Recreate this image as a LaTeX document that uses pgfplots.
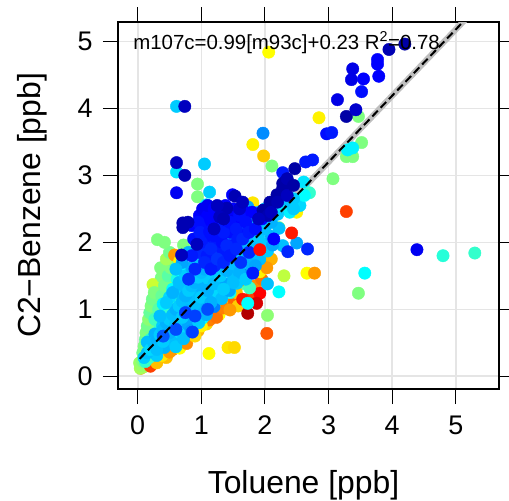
\documentclass[border=0pt]{standalone}
\usepackage{fontspec}
\setmainfont{Liberation Sans}
\usepackage{pgfplots}
\usepackage{pgfplotstable}
\pgfplotsset{compat=1.18}
\usetikzlibrary{calc}
\definecolor{gridc}{gray}{0.9}
\pgfplotstableread{
x y c
0.05 0.12 5.8
0.04 0.12 4.3
0.09 0.14 4.3
0.03 0.20 4.2
0.06 0.16 4.2
0.08 0.22 4.0
0.10 0.30 3.8
0.12 0.38 4.0
0.14 0.46 4.1
0.15 0.55 3.9
0.17 0.63 4.0
0.18 0.72 4.2
0.20 0.80 3.8
0.22 0.88 4.0
0.23 0.97 3.9
0.25 1.05 4.1
0.27 1.13 4.0
0.29 1.22 3.8
0.31 1.30 4.0
0.34 1.38 4.2
0.37 1.47 3.9
0.41 1.55 4.0
0.46 1.62 4.1
0.24 1.37 4.6
0.39 1.48 4.0
0.30 0.95 4.0
0.35 1.10 3.9
0.40 1.25 4.1
0.45 1.38 4.0
0.25 0.75 3.9
0.30 0.70 4.0
0.20 0.60 3.8
0.28 0.55 3.7
0.15 0.35 3.9
0.22 0.45 4.0
0.50 1.45 4.0
0.55 1.55 3.8
0.36 1.62 4.0
0.08 0.35 3.9
0.10 0.45 4.0
0.12 0.55 3.8
0.13 0.65 4.0
0.15 0.75 3.9
0.17 0.85 4.1
0.19 0.95 3.8
0.21 1.05 4.0
0.23 1.15 3.9
0.26 1.25 4.0
0.33 1.00 3.7
0.38 1.20 3.8
0.42 1.35 3.9
0.48 1.50 3.7
0.52 1.62 4.0
0.58 1.70 3.8
0.45 1.75 4.3
0.50 1.85 3.9
0.62 1.60 3.9
0.31 2.04 4.0
0.42 2.00 4.0
0.94 2.87 4.0
0.94 2.68 4.0
0.72 1.96 4.0
2.11 3.14 4.0
3.07 2.95 4.0
3.28 3.28 4.0
3.38 3.28 4.0
3.52 3.49 4.0
3.47 3.88 4.0
3.47 1.24 4.0
2.04 0.91 4.1
2.30 1.50 4.5
2.22 2.22 4.0
1.60 1.14 4.0
1.97 1.72 4.5
1.50 1.30 3.9
1.62 1.38 3.8
0.20 0.15 6.5
0.30 0.20 5.5
0.45 0.28 5.5
0.55 0.40 6.0
0.65 0.50 5.2
0.72 0.55 6.5
0.82 0.60 5.0
0.95 0.68 5.6
1.08 0.78 5.3
1.18 0.95 6.4
1.28 0.92 5.0
1.40 1.10 5.6
1.52 1.12 6.2
1.58 1.05 5.4
1.85 1.35 5.9
1.95 1.45 6.1
2.10 1.75 5.6
0.38 0.31 5.2
0.50 0.36 5.8
0.66 0.42 5.0
0.77 0.49 5.9
0.60 0.50 5.5
0.90 0.60 5.3
0.70 0.60 5.6
0.85 0.70 5.9
0.95 0.95 5.4
1.05 0.90 6.2
1.13 0.84 6.0
1.24 0.88 6.1
1.34 1.02 6.0
1.45 0.99 5.8
1.20 1.05 5.2
1.00 0.75 5.1
1.65 1.44 5.9
1.55 1.25 5.5
1.70 1.60 5.0
1.80 1.20 6.5
1.65 1.15 6.8
1.92 1.24 7.0
1.87 1.09 7.3
1.73 0.94 7.6
2.03 0.64 6.3
1.12 0.34 5.0
1.42 0.43 5.2
1.52 0.43 5.3
1.92 1.56 5.1
2.03 1.62 5.8
2.66 1.54 5.0
2.78 1.54 5.8
3.28 2.46 6.5
0.58 1.81 5.8
0.66 1.72 5.1
2.06 4.84 5.0
2.85 3.86 5.1
1.81 3.46 5.1
1.98 3.29 5.4
1.81 2.59 5.2
2.40 2.48 5.8
2.50 2.45 5.1
0.61 4.03 2.6
0.61 3.05 2.8
3.30 3.38 2.9
3.38 3.41 2.9
2.61 2.90 2.8
2.70 2.74 3.4
4.80 1.80 3.3
5.30 1.84 3.4
3.57 1.54 3.0
2.22 1.26 3.0
1.73 1.09 3.0
1.76 1.32 3.5
1.08 2.56 2.8
2.39 2.45 2.9
0.15 0.30 3.3
0.20 0.42 3.4
0.25 0.55 3.2
0.30 0.65 3.4
0.35 0.80 3.3
0.40 0.90 3.2
0.45 1.05 3.4
0.50 1.15 3.3
0.55 1.30 3.0
0.62 1.45 3.2
0.70 1.55 3.0
0.12 0.22 3.4
0.18 0.28 3.5
0.28 0.40 3.3
0.38 0.55 3.2
0.48 0.70 3.0
1.02 0.87 3.0
1.30 1.20 3.1
1.55 1.45 3.0
0.35 0.70 3.4
0.42 0.82 3.3
0.50 1.00 3.4
0.57 1.12 3.3
0.63 1.25 3.4
0.68 1.35 3.2
0.20 0.55 3.4
0.27 0.85 3.5
2.55 2.55 2.7
2.62 2.70 3.0
2.45 2.50 2.6
1.45 1.25 3.2
1.90 1.75 3.0
0.15 0.51 2.5
0.27 0.63 2.4
0.39 0.75 2.6
0.51 0.86 2.5
0.63 0.98 2.3
0.75 1.10 2.6
0.87 1.22 2.5
0.99 1.34 2.4
1.11 1.46 2.6
1.23 1.58 2.5
1.35 1.70 2.3
1.47 1.82 2.6
1.59 1.93 2.5
1.71 2.05 2.4
1.83 2.17 2.6
1.95 2.29 2.5
2.07 2.41 2.7
0.30 0.31 2.6
0.42 0.43 2.4
0.54 0.54 2.5
0.66 0.66 2.7
0.78 0.78 2.3
0.90 0.90 2.6
1.02 1.02 2.4
1.14 1.14 2.5
1.26 1.26 2.7
1.38 1.38 2.3
1.50 1.50 2.5
1.62 1.61 2.6
1.74 1.73 2.4
1.86 1.85 2.5
1.98 1.97 2.6
2.10 2.09 2.4
2.22 2.21 2.5
0.60 0.44 2.6
0.72 0.56 2.5
0.84 0.68 2.2
0.96 0.80 2.6
1.08 0.92 2.4
1.20 1.04 2.0
1.32 1.16 2.5
1.44 1.28 2.3
1.56 1.39 2.6
1.68 1.51 2.0
1.80 1.63 2.4
1.92 1.75 2.5
2.04 1.87 2.6
0.40 1.08 2.9
0.50 1.18 2.7
0.60 1.27 2.6
0.70 1.37 2.5
0.80 1.47 2.4
0.90 1.57 2.3
0.10 0.28 2.6
0.15 0.35 2.5
0.20 0.40 2.7
0.25 0.50 2.5
0.30 0.55 2.4
0.35 0.62 2.6
0.40 0.70 2.5
0.45 0.80 2.4
0.50 0.85 2.6
0.55 0.92 2.5
0.60 1.00 2.4
0.65 1.05 2.6
0.70 1.12 2.5
0.75 1.20 2.4
0.80 1.28 2.6
0.85 1.35 2.5
0.90 1.40 2.4
0.95 1.48 2.6
1.00 1.55 2.5
1.05 1.60 2.4
1.10 1.68 2.6
1.15 1.75 2.5
1.20 1.80 2.4
1.25 1.85 2.6
1.30 1.90 2.5
1.35 1.95 2.4
1.40 2.00 2.6
1.45 2.05 2.5
1.50 2.10 2.4
1.55 2.15 2.6
1.60 2.20 2.5
1.70 2.25 2.4
1.80 2.35 2.5
1.90 2.45 2.6
2.00 2.50 2.4
0.30 0.40 2.5
0.40 0.52 2.6
0.50 0.65 2.4
0.60 0.78 2.5
0.70 0.88 2.6
0.80 0.98 2.4
0.90 1.08 2.5
1.00 1.18 2.6
1.10 1.28 2.4
1.20 1.38 2.5
1.30 1.50 2.6
1.40 1.58 2.4
1.50 1.68 2.5
1.60 1.78 2.6
1.70 1.88 2.4
1.80 1.98 2.5
1.90 2.08 2.6
2.00 2.20 2.5
2.10 2.30 2.4
2.20 2.42 2.6
0.35 0.90 2.5
0.45 1.10 2.6
0.55 1.25 2.4
0.65 1.40 2.5
0.75 1.50 2.6
0.85 1.62 2.4
0.95 1.75 2.5
0.70 1.70 2.3
0.80 1.85 2.4
0.60 1.60 2.5
1.13 2.75 2.6
1.05 3.17 2.6
1.73 2.53 2.3
2.50 1.99 2.3
2.04 1.38 2.5
1.97 3.63 2.1
2.28 1.95 2.5
2.12 1.96 2.3
1.60 1.55 2.4
1.70 1.45 2.6
1.85 1.65 2.3
1.50 1.40 2.5
1.35 1.30 2.6
1.15 1.10 2.4
2.30 2.60 2.5
2.45 2.65 2.6
2.20 2.55 2.8
0.86 0.66 1.5
0.60 0.70 1.6
0.90 0.90 1.5
1.10 1.00 1.6
0.40 0.60 1.7
0.75 0.95 1.5
0.97 1.85 1.3
0.97 2.40 1.0
1.09 1.80 1.2
1.09 1.95 1.3
1.09 2.10 1.1
1.09 2.28 1.0
1.21 1.65 1.3
1.21 1.95 1.2
1.21 2.30 1.0
1.21 2.42 0.9
1.33 1.82 1.2
1.33 2.00 1.1
1.33 2.30 1.0
1.45 1.95 1.2
1.45 2.15 1.1
1.45 2.45 0.9
1.57 2.05 1.2
1.57 2.32 1.0
1.69 2.12 1.1
1.69 2.45 1.0
0.85 1.80 1.2
0.88 2.05 1.1
0.85 2.25 1.0
1.02 2.50 0.9
1.38 2.55 1.0
1.80 2.45 1.0
1.62 1.70 1.4
1.75 1.85 1.3
1.00 2.00 1.2
1.05 2.20 1.1
1.10 2.40 1.0
1.15 1.90 1.3
1.20 2.10 1.1
1.25 2.30 1.2
1.30 2.45 1.0
1.35 2.15 1.2
1.40 1.95 1.3
1.45 2.30 1.1
1.50 2.50 1.0
1.55 2.20 1.2
1.60 2.40 1.1
1.65 2.05 1.3
1.05 1.70 1.3
1.15 1.60 1.2
1.25 1.75 1.4
1.35 1.70 1.3
1.45 1.80 1.2
1.55 1.90 1.3
1.10 2.55 0.9
1.20 2.50 1.0
0.95 2.30 1.1
0.98 2.15 1.2
1.70 2.30 1.1
1.75 2.15 1.2
1.85 2.20 1.1
1.95 2.35 1.0
0.90 1.60 1.3
0.80 1.45 1.4
1.16 2.31 1.0
1.13 2.16 1.1
0.61 2.74 0.9
1.49 2.71 1.0
2.64 3.20 1.2
2.75 3.23 1.2
2.28 3.04 1.2
2.97 3.62 1.1
3.05 3.64 1.2
3.77 4.73 1.0
3.77 4.66 1.0
3.38 4.59 0.8
3.36 4.43 0.8
3.55 4.44 1.0
3.52 4.25 1.1
3.79 4.48 1.0
3.14 4.13 0.8
4.39 1.89 0.9
2.36 1.86 1.3
2.67 1.90 1.3
2.14 2.05 1.0
1.81 1.54 1.2
0.74 4.03 0.5
0.61 3.19 0.5
0.74 3.00 0.4
2.47 3.10 0.3
2.28 2.88 0.3
3.28 3.88 0.3
3.43 3.98 0.6
4.20 4.96 0.3
3.95 4.88 0.4
0.71 2.29 0.4
0.79 2.30 0.4
0.71 2.22 0.4
0.93 1.97 0.5
0.69 1.81 0.5
1.40 2.51 0.4
1.53 2.69 0.4
1.29 2.38 0.5
1.97 2.48 0.3
2.08 2.60 0.3
2.19 2.71 0.3
2.28 2.81 0.3
2.35 2.95 0.4
2.05 2.40 0.4
1.90 2.35 0.5
1.20 2.20 0.5
1.35 2.35 0.4
1.60 2.50 0.6
2.10 2.45 0.5
2.20 2.60 0.4
2.35 2.70 0.5
2.45 2.85 0.3
1.25 2.55 0.5
1.65 2.60 0.5
1.92 1.89 6.9
2.42 2.14 6.8
}\pts
\begin{document}
\begin{tikzpicture}
\begin{axis}[name=ax, scale only axis, width=381bp, height=367bp,
  xmin=-0.31, xmax=5.68, ymin=-0.19, ymax=5.29,
  xtick={0,1,2,3,4,5}, ytick={0,1,2,3,4,5},
  tick align=outside, major tick length=15bp,
  tick style={black, line width=1.1bp},
  axis line style={line width=1.2bp},
  grid=major, grid style={gridc, line width=1.6bp},
  ticklabel style={font=\fontsize{27}{30}\selectfont},
  /pgf/number format/assume math mode=true,
  xticklabel style={yshift=-8bp},
  yticklabel style={xshift=-7bp},
  xlabel={Toluene [ppb]}, ylabel={C2−Benzene [ppb]},
  xlabel style={font=\fontsize{32}{36}\selectfont, at={(rel axis cs:0.5,0)}, anchor=base, yshift=-104bp, xshift=-5bp},
  ylabel style={font=\fontsize{32}{36}\selectfont, at={(rel axis cs:0,0.5)}, anchor=base, rotate=0, xshift=0bp, yshift=77bp},
  colormap/jet, point meta min=0, point meta max=8,
  clip marker paths=true,
]
\addplot[gray!50, line width=6bp, forget plot] coordinates {(0.03,0.26) (5.8,5.97)};
\addplot[scatter, only marks, mark=*, mark size=6.2bp, point meta=explicit,
  scatter/use mapped color={draw=mapped color, fill=mapped color}]
  table[x=x, y=y, meta=c] {\pts};
\addplot[black, line width=2bp, dash pattern=on 8bp off 4bp] coordinates {(0.03,0.26) (5.8,5.97)};
\node[anchor=base west, font=\fontsize{20.5}{24}\selectfont] at (rel axis cs:0.031,0.926) {m107c=0.99[m93c]+0.23 R\textsuperscript{2}=0.78};
\end{axis}
\pgfresetboundingbox
\path[use as bounding box] ($(ax.south west)+(-118bp,-112bp)$) rectangle ($(ax.north east)+(10bp,22bp)$);
\end{tikzpicture}
\end{document}
